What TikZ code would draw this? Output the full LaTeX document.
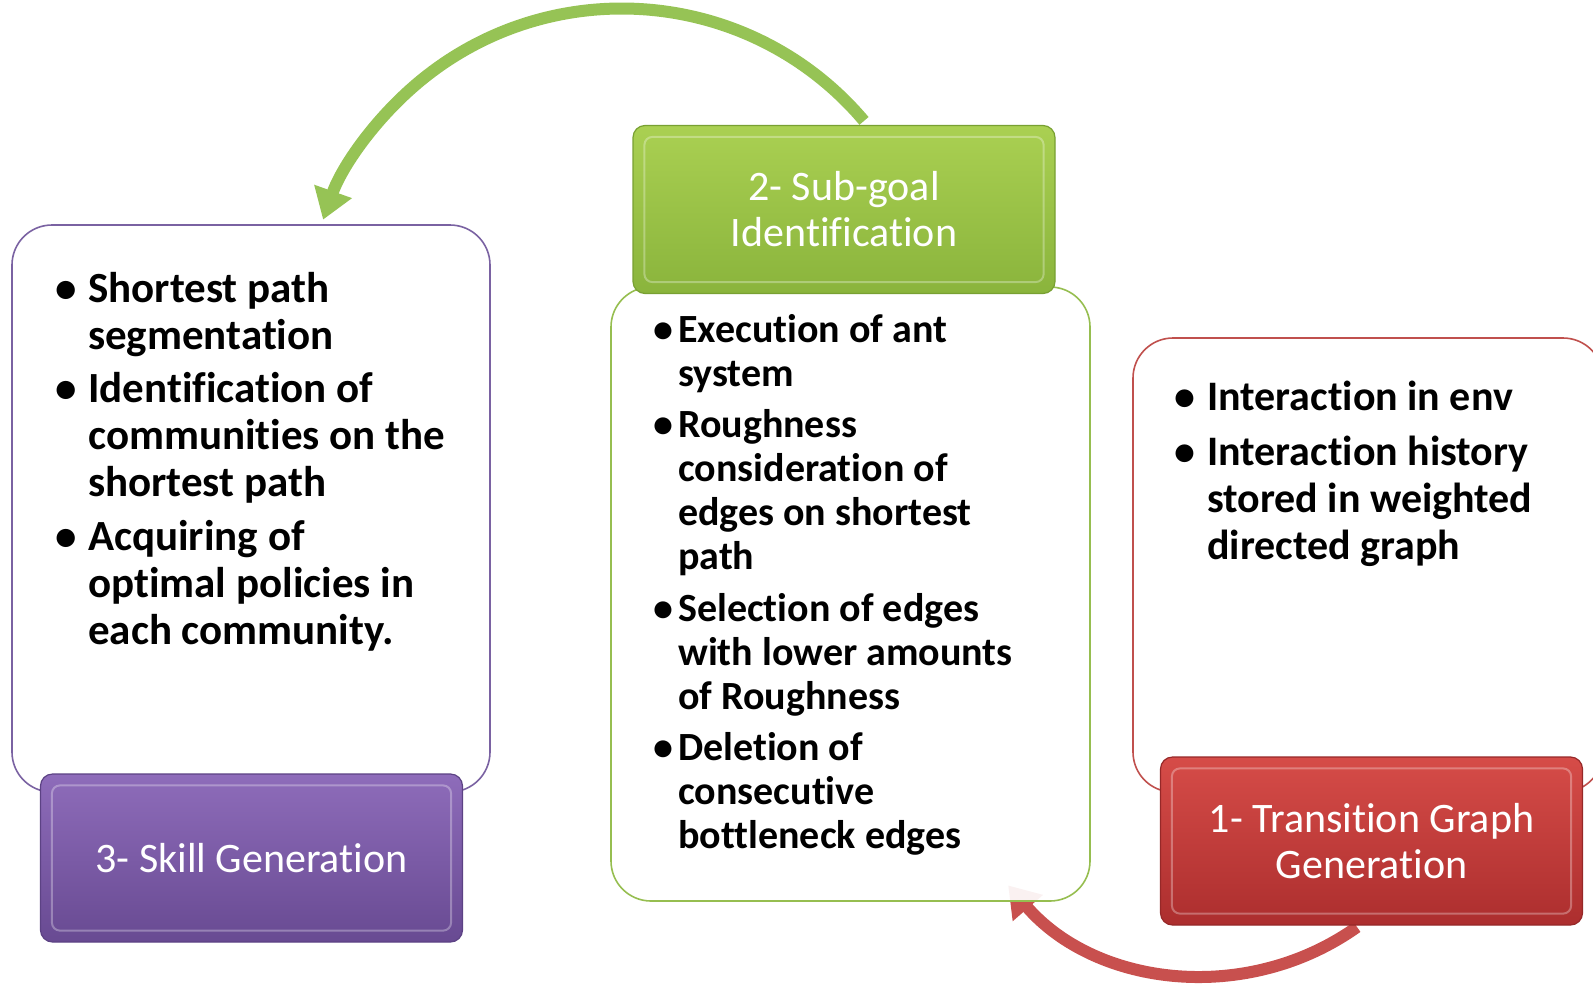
\documentclass[tikz,border=0pt]{standalone}
\usepackage{fontspec}
\setmainfont{Carlito}[Ligatures=NoCommon]
\usetikzlibrary{arrows.meta}

\definecolor{skillline}{RGB}{122,98,162}
\definecolor{goalline}{RGB}{150,190,80}
\definecolor{graphline}{RGB}{192,80,77}
\definecolor{greenarc}{RGB}{150,195,85}
\definecolor{redarc}{RGB}{200,80,78}
\definecolor{skilltop}{RGB}{142,108,186}
\definecolor{skillbot}{RGB}{104,74,146}
\definecolor{skilledge}{RGB}{92,66,132}
\definecolor{goaltop}{RGB}{170,208,82}
\definecolor{goalbot}{RGB}{138,180,60}
\definecolor{goaledge}{RGB}{120,160,50}
\definecolor{graphtop}{RGB}{214,76,72}
\definecolor{graphbot}{RGB}{172,46,46}
\definecolor{graphedge}{RGB}{150,40,40}

% bullet, then the lines of its text
\newcommand{\bpt}[2]{\makebox[#1][l]{\textbullet}\begin{tabular}[t]{@{}l@{}}#2\end{tabular}}

\tikzset{
  panel/.style={draw=#1, line width=1.6pt, fill=white, rounded corners=40pt},
  header/.style={draw=#1edge, top color=#1top, bottom color=#1bot, line width=1.2pt,
    rounded corners=12pt, text=white, align=center, font=\fontsize{42}{46}\selectfont,
    minimum width=422pt, minimum height=168pt},
  btext/.style={anchor=base west, inner sep=0pt},
  arc/.style={draw=#1, line width=12pt, -{Triangle[width=38pt,length=30pt]}}
}

\begin{document}
\begin{tikzpicture}[x=1pt,y=1pt]
  \useasboundingbox (0,0) rectangle (1593,-983);

  % red arc behind the middle panel
  \coordinate (redstart) at (1357,-927);
  \draw[arc=redarc] (redstart) arc[start angle=-54.6, end angle=-139, radius=261.5pt];

  % panels
  \node[panel=skillline, minimum width=478pt, minimum height=567pt] (skillbox) at (251,-508.5) {};
  \node[panel=goalline, fill opacity=0.92, minimum width=479pt, minimum height=614pt] (goalbox) at (850.5,-594) {};
  \node[panel=graphline, minimum width=470pt, minimum height=454pt] (graphbox) at (1368,-565) {};

  % headers
  \node[header=skill] (skillhead) at (251.5,-858) {3- Skill Generation};
  \node[header=goal] (goalhead) at (844,-209.5) {2- Sub-goal\\Identification};
  \node[header=graph] (graphhead) at (1371.5,-841) {1- Transition Graph\\Generation};
  \foreach \h in {skillhead,goalhead,graphhead}
    \draw[white, opacity=0.3, line width=2pt, rounded corners=8pt]
      ([shift={(12,-12)}]\h.north west) rectangle ([shift={(-12,12)}]\h.south east);

  % left list
  \begin{scope}[font=\bfseries\fontsize{43}{47}\selectfont]
    \node[btext] (s1) at (55,-302) {\bpt{33pt}{Shortest path\\segmentation}};
    \node[btext] (s2) at (55,-402) {\bpt{33pt}{Identification of\\communities on the\\shortest path}};
    \node[btext] (s3) at (55,-550) {\bpt{33pt}{Acquiring of\\optimal policies in\\each community.}};
  \end{scope}

  % middle list
  \begin{scope}[font=\bfseries\fontsize{40}{44}\selectfont]
    \node[btext] (g1) at (653,-342) {\bpt{25pt}{Execution of ant\\system}};
    \node[btext] (g2) at (653,-437) {\bpt{25pt}{Roughness\\consideration of\\edges on shortest\\path}};
    \node[btext] (g3) at (653,-621) {\bpt{25pt}{Selection of edges\\with lower amounts\\of Roughness}};
    \node[btext] (g4) at (653,-760) {\bpt{25pt}{Deletion of\\consecutive\\bottleneck edges}};
  \end{scope}

  % right list
  \begin{scope}[font=\bfseries\fontsize{42}{47}\selectfont]
    \node[btext] (t1) at (1174,-410) {\bpt{33pt}{Interaction in env}};
    \node[btext] (t2) at (1174,-465) {\bpt{33pt}{Interaction history\\stored in weighted\\directed graph}};
  \end{scope}

  % green arc from sub-goal header to skill panel
  \draw[arc=greenarc] ([xshift=20pt,yshift=4pt]goalhead.north) arc[start angle=40.2, end angle=160.5, radius=317pt];
\end{tikzpicture}
\end{document}
